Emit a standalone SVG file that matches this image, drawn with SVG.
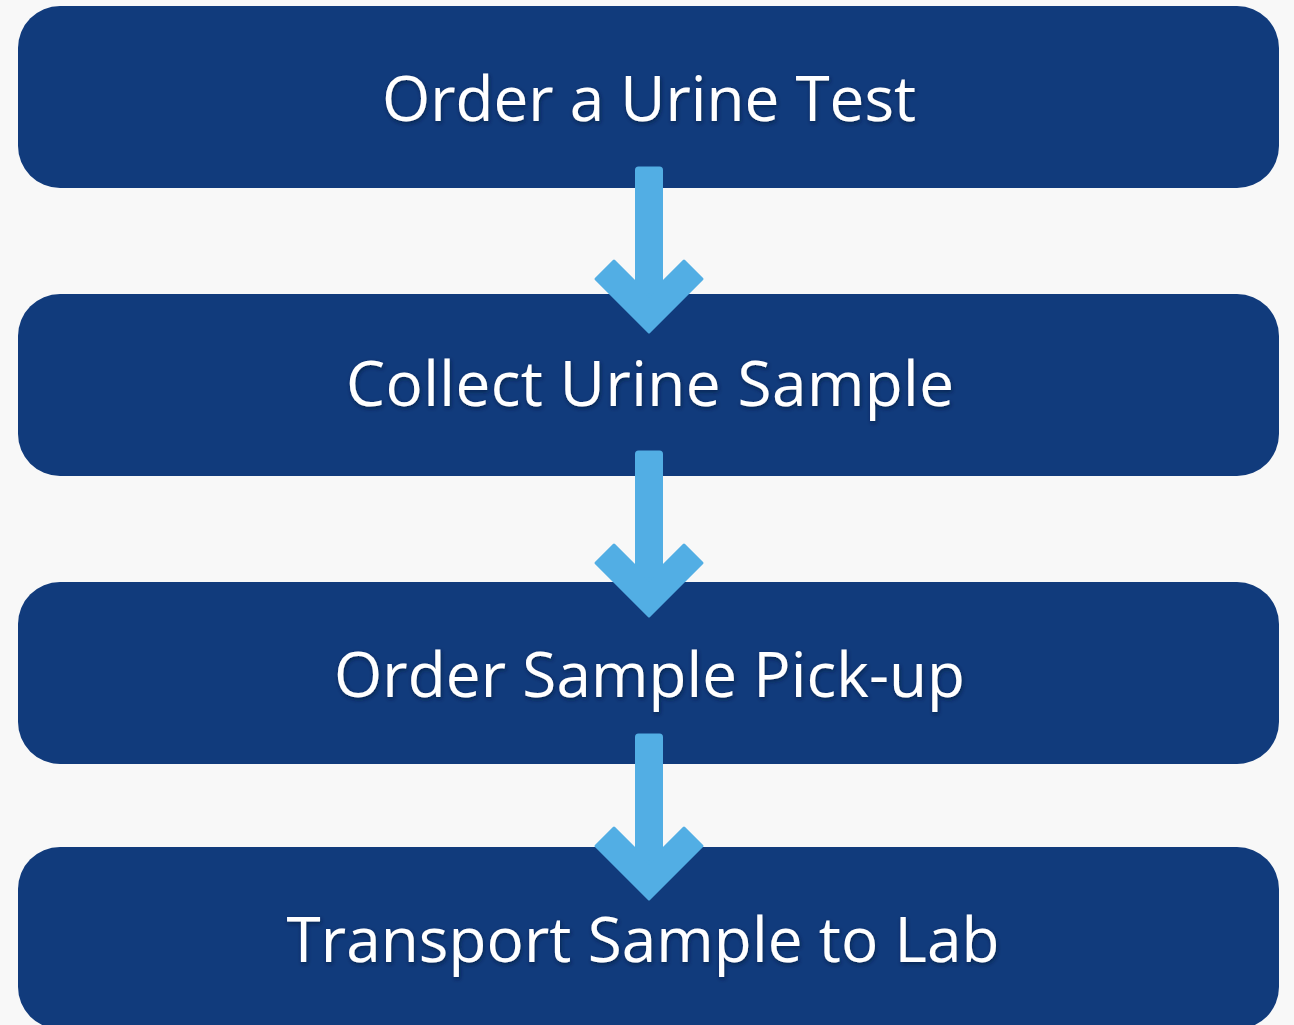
<svg xmlns="http://www.w3.org/2000/svg" width="1294" height="1025" viewBox="0 0 1294 1025">
<style>
.box{fill:#113b7c}
.lbl{font-family:"Open Sans","Noto Sans",sans-serif;font-size:62px;fill:#ffffff;text-anchor:middle;filter:url(#sh)}
.arr{fill:#52aee4;stroke:#52aee4;stroke-width:3;stroke-linejoin:round}
</style>
<defs>
<filter id="sh" x="-10%" y="-30%" width="120%" height="160%">
<feDropShadow dx="1" dy="2" stdDeviation="2" flood-color="#061a3a" flood-opacity="0.7"/>
</filter>
<g id="arrowShape">
<rect x="636.5" y="0" width="25" height="130" rx="2"/>
<polygon points="596,111 649,164 702,111 684,93 649,128 614,93"/>
</g>
</defs>
<rect width="1294" height="1025" fill="#f8f8f8"/>
<g id="node1"><rect class="box" x="18" y="6" width="1261" height="182" rx="42"/><text class="lbl" x="649" y="121">Order a Urine Test</text></g>
<g id="node2"><rect class="box" x="18" y="294" width="1261" height="182" rx="42"/><text class="lbl" x="650" y="406" textLength="608" lengthAdjust="spacing">Collect Urine Sample</text></g>
<g id="node3"><rect class="box" x="18" y="582" width="1261" height="182" rx="42"/><text class="lbl" x="649.5" y="697" textLength="631" lengthAdjust="spacing">Order Sample Pick-up</text></g>
<g id="node4"><rect class="box" x="18" y="847" width="1261" height="182" rx="42"/><text class="lbl" x="643" y="962" textLength="713" lengthAdjust="spacing">Transport Sample to Lab</text></g>
<g id="connectors">
<use class="arr" href="#arrowShape" transform="translate(0,168)"/>
<use class="arr" href="#arrowShape" transform="translate(0,452)"/>
<use class="arr" href="#arrowShape" transform="translate(0,735)"/>
</g>
</svg>
